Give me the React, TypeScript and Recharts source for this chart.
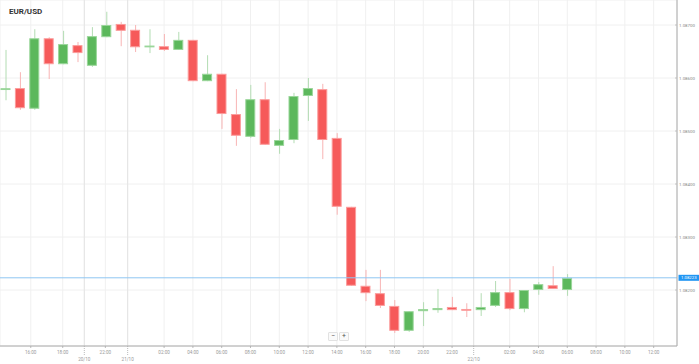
import React from 'react';
import { ComposedChart, Bar, XAxis, YAxis, CartesianGrid, ReferenceLine } from 'recharts';

const title = 'EUR/USD';

const candleIndex = [0, 1, 2, 3, 4, 5, 6, 7, 8, 9, 10, 11, 12, 13, 14, 15, 16, 17, 18, 19, 20, 21, 22, 23, 24, 25, 26, 27, 28, 29, 30, 31, 32, 33, 34, 35, 36, 37, 38, 39];

const opens = [1.08578, 1.08581, 1.08542, 1.08675, 1.08626, 1.08662, 1.08623, 1.08677, 1.08702, 1.08691, 1.08658, 1.0866, 1.08653, 1.08672, 1.08594, 1.08608, 1.08532, 1.08489, 1.0856, 1.08472, 1.08483, 1.08566, 1.08579, 1.08487, 1.08357, 1.08208, 1.08194, 1.0817, 1.08123, 1.0816, 1.08162, 1.08168, 1.08164, 1.08162, 1.0817, 1.08196, 1.08164, 1.082, 1.08209, 1.082];
const closes = [1.0858, 1.08543, 1.08675, 1.08626, 1.08664, 1.08647, 1.08679, 1.087, 1.08689, 1.08658, 1.08661, 1.08653, 1.08672, 1.08594, 1.08608, 1.08532, 1.08491, 1.0856, 1.08474, 1.08483, 1.08566, 1.08581, 1.08483, 1.08357, 1.08208, 1.08194, 1.0817, 1.08123, 1.0816, 1.08164, 1.08166, 1.08162, 1.08161, 1.08168, 1.08196, 1.08164, 1.082, 1.08211, 1.08202, 1.08223];
const highs = [1.08653, 1.08611, 1.08692, 1.08677, 1.08689, 1.08668, 1.08696, 1.08725, 1.08706, 1.087, 1.08692, 1.08683, 1.08687, 1.08672, 1.08643, 1.08608, 1.08579, 1.08587, 1.08592, 1.08504, 1.08572, 1.086, 1.08589, 1.08496, 1.08357, 1.08238, 1.08238, 1.08181, 1.0816, 1.08177, 1.08202, 1.08187, 1.08175, 1.08194, 1.08217, 1.08221, 1.082, 1.08215, 1.08245, 1.0823];
const lows = [1.08558, 1.0854, 1.0854, 1.08598, 1.08626, 1.0863, 1.08621, 1.08677, 1.0866, 1.08649, 1.08647, 1.08651, 1.08653, 1.08594, 1.08594, 1.08504, 1.08472, 1.08487, 1.08474, 1.08457, 1.08477, 1.08519, 1.08447, 1.08342, 1.08208, 1.08179, 1.08166, 1.08119, 1.08121, 1.08132, 1.08157, 1.08162, 1.08149, 1.08151, 1.08168, 1.08162, 1.08158, 1.08191, 1.08202, 1.08189];

const timeTicks = [1.74, 3.96, 6.92, 11, 13, 15, 17, 19, 21, 23, 25, 27, 29, 31, 35, 37, 39, 41, 43, 45];
const timeTickLabels = ['16:00', '18:00', '22:00', '02:00', '04:00', '06:00', '08:00', '10:00', '12:00', '14:00', '16:00', '18:00', '20:00', '22:00', '02:00', '04:00', '06:00', '08:00', '10:00', '12:00'];
const dateTicks = [5.46, 8.47, 32.5];
const dateTickLabels = ['20/10', '21/10', '22/10'];

const priceTicks = [1.082, 1.083, 1.084, 1.085, 1.086, 1.087];
const currentPrice = 1.08223;

const GREEN = '#5cb85c';
const GREEN_EDGE = '#9ad69a';
const RED = '#f65a5a';
const RED_EDGE = '#fb9c9c';
const GREEN_WICK = '#b3dcb3';
const RED_WICK = '#f8b4b4';

const data = candleIndex.map((i) => ({
  i,
  wick: [lows[i], highs[i]],
  body: [Math.min(opens[i], closes[i]), Math.max(opens[i], closes[i])],
  up: closes[i] >= opens[i],
}));

const tickLabelMap: Record<string, { label: string; date: boolean }> = {};
timeTicks.forEach((t, k) => { tickLabelMap[String(t)] = { label: timeTickLabels[k], date: false }; });
dateTicks.forEach((t, k) => { tickLabelMap[String(t)] = { label: dateTickLabels[k], date: true }; });

const XTick = (props: any) => {
  const { x, y, payload } = props;
  const info = tickLabelMap[String(payload.value)];
  if (!info) return null;
  if (info.date) {
    return (
      <g>
        <line x1={x} x2={x} y1={y} y2={y + 9} stroke="#aaa" strokeWidth={0.8} strokeDasharray="1 1" />
        <text x={x} y={y + 14.6} textAnchor="middle" fontSize={4.6} fill="#999" fontFamily="Roboto">{info.label}</text>
      </g>
    );
  }
  return (
    <g>
      <line x1={x} x2={x} y1={y} y2={y + 2} stroke="#aaa" strokeWidth={0.8} />
      <text x={x} y={y + 8.3} textAnchor="middle" fontSize={4.6} fill="#999" fontFamily="Roboto">{info.label}</text>
    </g>
  );
};

const YTick = (props: any) => {
  const { x, y, payload } = props;
  return (
    <g>
      <line x1={x - 2} x2={x} y1={y} y2={y} stroke="#bbb" strokeWidth={0.8} />
      <text x={x + 2} y={y} dy="0.35em" textAnchor="start" fontSize={4.4} fill="#888" fontFamily="Roboto">{payload.value.toFixed(5)}</text>
    </g>
  );
};

const BodyShape = (props: any) => {
  const { x, y, width, height, payload } = props;
  let top = y;
  let h = height;
  if (h < 0) { top = y + h; h = -h; }
  const minH = 1.8;
  if (h < minH) { top -= (minH - h) / 2; h = minH; }
  const up = payload.up;
  return (
    <rect x={x + 0.5} y={top + 0.5} width={width - 1} height={Math.max(h - 1, 0.8)}
      fill={up ? GREEN : RED} stroke={up ? GREEN_EDGE : RED_EDGE} strokeWidth={1} />
  );
};

const WickShape = (props: any) => {
  const { x, y, width, height, payload } = props;
  let top = y;
  let h = height;
  if (h < 0) { top = y + h; h = -h; }
  return <rect x={x} y={top} width={width} height={h} fill={payload.up ? GREEN_WICK : RED_WICK} />;
};

const PriceTag = (props: any) => {
  const vb = props.viewBox || {};
  const x = (vb.x || 0) + (vb.width || 0);
  const y = vb.y || 0;
  return (
    <g>
      <rect x={x + 1.5} y={y - 3} width={20.5} height={6} fill="#2196f3" />
      <text x={x + 11.8} y={y} dy="0.35em" textAnchor="middle" fontSize={4.3} fill="#fff" fontFamily="Roboto">{currentPrice.toFixed(5)}</text>
    </g>
  );
};

const X_DOMAIN: [number, number] = [-0.396, 46.62];
const Y_DOMAIN: [number, number] = [1.0809434, 1.0874717];

export default function App() {
  return (
    <div style={{ position: 'absolute', left: 0, top: 0, width: 699, height: 364, background: '#fff' }}>
      <ComposedChart width={699} height={364} data={data} margin={{ top: 0, right: 0, bottom: 0, left: 0 }}>
        <CartesianGrid xAxisId="main" stroke="#f0f0f0" strokeWidth={1} />
        <XAxis xAxisId="main" type="number" dataKey="i" domain={X_DOMAIN} allowDataOverflow
          ticks={[...timeTicks, ...dateTicks]} interval={0} tick={<XTick />} tickLine={false}
          tickSize={0} tickMargin={0} height={18} axisLine={{ stroke: '#aaa' }} />
        <XAxis xAxisId="wick" type="number" dataKey="i" domain={X_DOMAIN} allowDataOverflow hide />
        <YAxis orientation="right" type="number" domain={Y_DOMAIN} allowDataOverflow ticks={priceTicks}
          interval={0} tick={<YTick />} tickLine={false} tickSize={0} tickMargin={0} width={22}
          axisLine={{ stroke: '#aaa' }} />
        {dateTicks.map((d) => (
          <ReferenceLine key={d} xAxisId="main" x={d} stroke="#e4e4e4" strokeWidth={1} />
        ))}
        <Bar xAxisId="wick" dataKey="wick" barSize={1} shape={<WickShape />} isAnimationActive={false} />
        <Bar xAxisId="main" dataKey="body" barSize={10} shape={<BodyShape />} isAnimationActive={false} />
        <ReferenceLine xAxisId="main" y={currentPrice} stroke="#8fc6f2" strokeWidth={1} label={<PriceTag />} />
      </ComposedChart>
      <div style={{ position: 'absolute', left: 9, top: 7, fontFamily: 'Roboto', fontWeight: 700, fontSize: 8, color: '#333', lineHeight: '10px' }}>{title}</div>
      <div style={{ position: 'absolute', left: 328, top: 332, width: 8, height: 7, border: '1px solid #e2e2e2', borderRadius: 1, background: '#fafafa', fontFamily: 'Roboto', fontSize: 7, lineHeight: '7px', textAlign: 'center', color: '#555' }}>−</div>
      <div style={{ position: 'absolute', left: 339, top: 332, width: 8, height: 7, border: '1px solid #e2e2e2', borderRadius: 1, background: '#fafafa', fontFamily: 'Roboto', fontSize: 7, lineHeight: '7px', textAlign: 'center', color: '#555' }}>+</div>
    </div>
  );
}
